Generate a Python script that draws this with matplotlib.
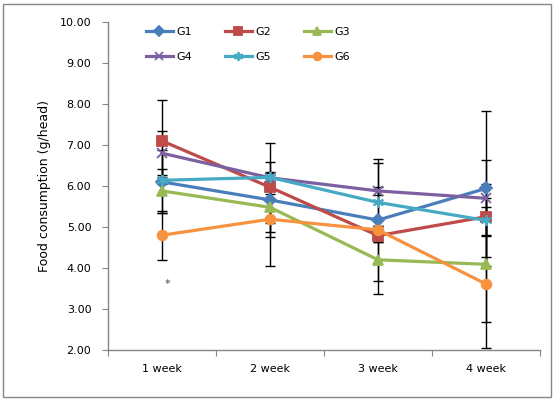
import matplotlib.pyplot as plt
import numpy as np
from matplotlib.patches import Rectangle

# data
weeks = ["1 week", "2 week", "3 week", "4 week"]
groups = ["G1", "G2", "G3", "G4", "G5", "G6"]

g1 = [6.10, 5.66, 5.17, 5.94]
g2 = [7.10, 5.97, 4.79, 5.25]
g3 = [5.88, 5.48, 4.20, 4.09]
g4 = [6.80, 6.20, 5.88, 5.70]
g5 = [6.14, 6.21, 5.60, 5.16]
g6 = [4.80, 5.19, 4.93, 3.61]

e1 = [0.77, 0.56, 1.49, 1.89]
e2 = [1.00, 1.09, 0.15, 0.45]
e3 = [0.53, 0.73, 0.83, 1.40]
e4 = [0.54, 0.39, 0.10, 0.93]
e5 = [0.08, 0.10, 0.96, 0.90]
e6 = [0.60, 1.14, 0.10, 1.57]

values = [g1, g2, g3, g4, g5, g6]
errors = [e1, e2, e3, e4, e5, e6]
colors = ["#4A7EBB", "#BE4B48", "#98B954", "#7D60A0", "#46AAC5", "#F69240"]
markers = ["D", "s", "^", "x", (6, 2, 0), "o"]
msizes = [6, 7, 7, 7, 8, 7]

fig = plt.figure(figsize=(5.55, 4.0), dpi=100)
ax = fig.add_axes([108/555, 50/400, 432/555, 328/400])

x = np.arange(len(weeks))

# error bars underneath the lines
for v, e in zip(values, errors):
    ax.errorbar(x, v, yerr=e, fmt="none", ecolor="black", elinewidth=1.0,
                capsize=3.5, capthick=1.0, zorder=2)

lines = []
for v, name, c, m, ms in zip(values, groups, colors, markers, msizes):
    ln, = ax.plot(x, v, color=c, lw=2.3, marker=m, markersize=ms,
                  markerfacecolor=c, markeredgecolor=c, markeredgewidth=1.3,
                  label=name, zorder=3)
    lines.append(ln)

ax.text(0.05, 3.6, "*", ha="center", va="center", fontsize=8, color="#404040")

ax.set_xlim(-0.5, 3.5)
ax.set_ylim(2, 10)
ax.set_yticks(np.arange(2, 10.01, 1))
ax.set_yticklabels([f"{t:.2f}" for t in np.arange(2, 10.01, 1)])

# category ticks between categories, labels centered
ax.set_xticks(np.arange(-0.5, 3.6, 1))
ax.set_xticklabels([])
ax.set_xticks(x, minor=True)
ax.set_xticklabels(weeks, minor=True)
ax.tick_params(axis="x", which="minor", length=0, pad=10, labelsize=8)
ax.tick_params(axis="x", which="major", length=4, width=0.8, color="#868686")
ax.tick_params(axis="y", length=4, width=0.8, color="#868686", pad=8, labelsize=8)

for s in ["top", "right"]:
    ax.spines[s].set_visible(False)
for s in ["left", "bottom"]:
    ax.spines[s].set_color("#868686")
    ax.spines[s].set_linewidth(1.0)

ax.set_ylabel("Food consumption (g/head)", fontsize=9, labelpad=6)

# legend filled row by row: G1 G2 G3 / G4 G5 G6
order = [0, 3, 1, 4, 2, 5]
ax.legend([lines[i] for i in order], [groups[i] for i in order],
          loc="upper left", bbox_to_anchor=(146/555, 1 - 27/400),
          bbox_transform=fig.transFigure, ncol=3, frameon=False,
          fontsize=8, handlelength=2.4, handletextpad=0.3, columnspacing=3.0,
          labelspacing=1.35, borderpad=0, borderaxespad=0, numpoints=1,
          markerscale=0.8)

fig.patches.append(Rectangle((3/555, 3/400), 548/555, 393/400, fill=False,
                             edgecolor="#868686", lw=1.0,
                             transform=fig.transFigure, figure=fig))

fig.savefig("out.png", dpi=100)
